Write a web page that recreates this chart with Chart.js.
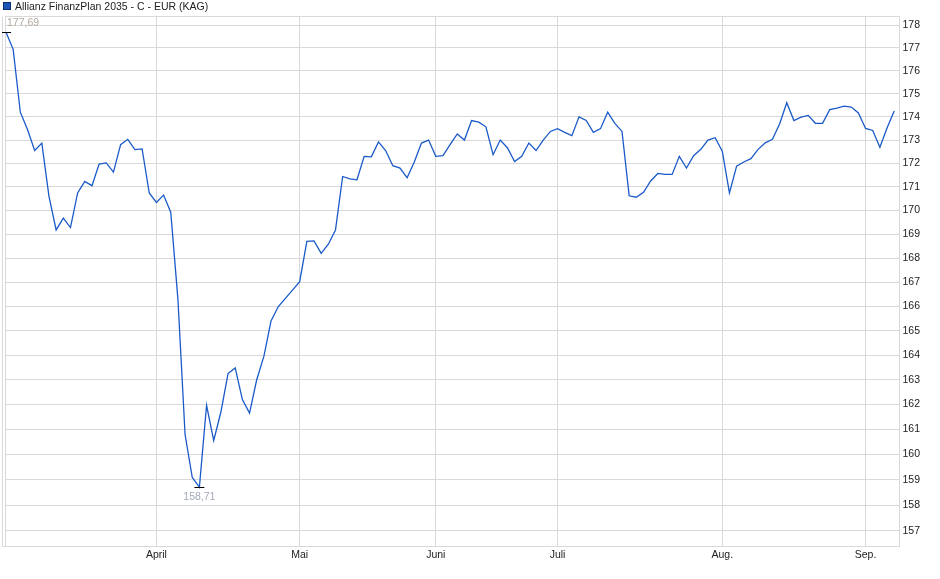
<!DOCTYPE html>
<html>
<head>
<meta charset="utf-8">
<script src="https://cdn.jsdelivr.net/npm/chart.js@4/dist/chart.umd.min.js"></script>
<style>
    html, body { margin: 0; padding: 0; background: #fff; }
    #wrap { position: relative; width: 940px; height: 579px; }
    #legend {
        position: absolute; left: 3px; top: 0px;
        font: 10.5px "Liberation Sans", Arial, sans-serif; color: #222;
        line-height: 12px; pointer-events: none; white-space: nowrap;
    }
    #legend span.box {
        display: inline-block; width: 6px; height: 6px; margin-right: 4px;
        background: #1d56b8; border: 1px solid #0d2f6e; vertical-align: 0px;
    }
</style>
</head>
<body>
<div id="wrap">
    <canvas id="myChart"></canvas>
    <div id="legend"><span class="box"></span>Allianz FinanzPlan 2035 - C - EUR (KAG)</div>
</div>
<script>
// month ticks: index of the first trading day in each month
const monthIdx = [21, 41, 60, 77, 100, 120];
const monthNames = ["April", "Mai", "Juni", "Juli", "Aug.", "Sep."];

const yTicks = [157, 158, 159, 160, 161, 162, 163, 164, 165, 166, 167,
    168, 169, 170, 171, 172, 173, 174, 175, 176, 177, 178];

// daily prices, mid March to early September
const prices = [
    177.69, 176.94, 174.20, 173.45, 172.55, 172.87, 170.60, 169.18, 169.68, 169.28,
    170.74, 171.23, 171.05, 171.97, 172.02, 171.63, 172.80, 173.03, 172.59, 172.62,
    170.74, 170.34, 170.65, 169.93, 166.30, 160.80, 159.10, 158.71, 161.97, 160.56,
    161.70, 163.25, 163.48, 162.20, 161.66, 163.00, 163.95, 165.40, 165.98, 166.33,
    166.67, 167.02, 168.70, 168.72, 168.20, 168.58, 169.18, 171.44, 171.34, 171.30,
    172.30, 172.28, 172.92, 172.55, 171.90, 171.80, 171.39, 172.06, 172.87, 173.00,
    172.30, 172.33, 172.80, 173.26, 173.00, 173.84, 173.77, 173.57, 172.37, 173.00,
    172.67, 172.08, 172.30, 172.87, 172.55, 173.00, 173.37, 173.49, 173.33, 173.19,
    174.00, 173.84, 173.33, 173.49, 174.20, 173.72, 173.37, 170.62, 170.56, 170.77,
    171.25, 171.57, 171.53, 171.53, 172.30, 171.80, 172.33, 172.60, 173.00, 173.10,
    172.52, 170.74, 171.88, 172.06, 172.20, 172.60, 172.88, 173.03, 173.69, 174.61,
    173.84, 173.99, 174.06, 173.72, 173.72, 174.31, 174.38, 174.46, 174.42, 174.17,
    173.50, 173.41, 172.69, 173.52, 174.25
];

const gridColor = "#d9d9d9";
const fontFamily = '"Liberation Sans", Arial, sans-serif';

/**
 * Formats a price the German way (comma as decimal separator).
 * @param {number} v
 */
function fmt(v) {
    return v.toFixed(2).replace(".", ",");
}

// light frame around the plot area
const framePlugin = {
    id: "frame",
    beforeDatasetsDraw(chart) {
        const a = chart.chartArea;
        const ctx = chart.ctx;
        ctx.save();
        ctx.strokeStyle = gridColor;
        ctx.lineWidth = 1;
        ctx.strokeRect(Math.round(a.left) + 0.5, Math.round(a.top) + 0.5,
            Math.round(a.right - a.left), Math.round(a.bottom - a.top));
        ctx.beginPath();
        ctx.moveTo(2.5, Math.round(a.top) + 0.5);
        ctx.lineTo(2.5, Math.round(a.bottom) + 0.5);
        ctx.lineTo(a.left, Math.round(a.bottom) + 0.5);
        ctx.stroke();
        ctx.restore();
    }
};

// high / low markers with their values
const extremesPlugin = {
    id: "extremes",
    afterDatasetsDraw(chart) {
        const ctx = chart.ctx;
        const xs = chart.scales.x;
        const ys = chart.scales.y;
        let hi = 0, lo = 0;
        for (let i = 1; i < prices.length; i++) {
            if (prices[i] > prices[hi]) hi = i;
            if (prices[i] < prices[lo]) lo = i;
        }
        ctx.save();
        ctx.font = "10.5px " + fontFamily;
        ctx.strokeStyle = "#000";
        ctx.lineWidth = 1;

        const hx = xs.getPixelForValue(hi);
        const hy = Math.round(ys.getPixelForValue(prices[hi])) + 0.5;
        ctx.beginPath();
        ctx.moveTo(hx - 4, hy);
        ctx.lineTo(hx + 5, hy);
        ctx.stroke();
        ctx.fillStyle = "#b3a89f";
        ctx.textAlign = "left";
        ctx.textBaseline = "middle";
        ctx.fillText(fmt(prices[hi]), hx + 1, hy - 9);

        const lx = xs.getPixelForValue(lo);
        const ly = Math.round(ys.getPixelForValue(prices[lo])) + 0.5;
        ctx.beginPath();
        ctx.moveTo(lx - 5, ly);
        ctx.lineTo(lx + 5, ly);
        ctx.stroke();
        ctx.fillStyle = "#a3a9b9";
        ctx.textAlign = "center";
        ctx.fillText(fmt(prices[lo]), lx, ly + 10);
        ctx.restore();
    }
};

const points = prices.map((v, i) => ({ x: i, y: v }));

const myChart = new Chart("myChart", {
    type: "line",
    data: {
        datasets: [{
            data: points,
            borderColor: "#1a5ac8",
            borderWidth: 1.3,
            pointRadius: 0,
            tension: 0,
            fill: false
        }]
    },
    options: {
        responsive: true,
        maintainAspectRatio: false,
        animation: false,
        layout: { padding: { left: 5, top: 16, right: 0, bottom: 0 } },
        plugins: {
            legend: { display: false },
            tooltip: { enabled: false }
        },
        scales: {
            x: {
                type: "linear",
                min: -0.14,
                max: 124.6,
                afterBuildTicks: (axis) => {
                    axis.ticks = monthIdx.map(v => ({ value: v }));
                },
                afterFit: (axis) => { axis.height = 33; },
                ticks: {
                    autoSkip: false,
                    maxRotation: 0,
                    padding: 3,
                    color: "#222",
                    font: { family: fontFamily, size: 10.5 },
                    callback: (v) => monthNames[monthIdx.indexOf(v)]
                },
                grid: { color: gridColor, drawTicks: false },
                border: { display: false }
            },
            y: {
                type: "logarithmic",
                position: "right",
                min: 156.408,
                max: 178.412,
                afterBuildTicks: (axis) => {
                    axis.ticks = yTicks.map(v => ({ value: v }));
                },
                afterFit: (axis) => { axis.width = 41.5; },
                ticks: {
                    padding: 4,
                    color: "#222",
                    font: { family: fontFamily, size: 10.5 },
                    callback: (v) => String(v)
                },
                grid: { color: gridColor, drawTicks: false },
                border: { display: false }
            }
        }
    },
    plugins: [framePlugin, extremesPlugin]
});
</script>
</body>
</html>
